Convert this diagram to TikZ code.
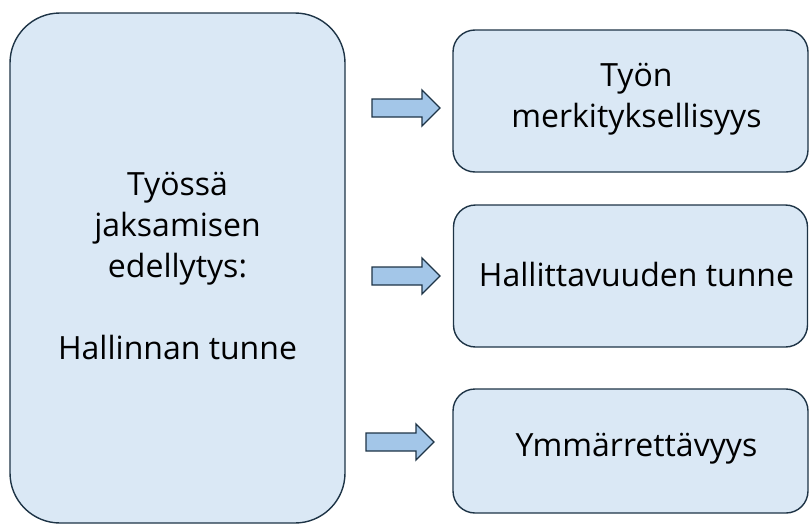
\documentclass[tikz,border=0pt]{standalone}
\usepackage{fontspec}
\setmainfont{Open Sans}
\definecolor{boxfill}{HTML}{DAE8F5}
\definecolor{boxdraw}{HTML}{1E3446}
\definecolor{arrowfill}{HTML}{A3C6E8}
\begin{document}
\begin{tikzpicture}[x=1pt,y=-1pt,
  box/.style={draw=boxdraw, fill=boxfill, line width=1.4pt, inner sep=0pt},
  boxtext/.style={align=center, inner sep=0pt, font=\fontsize{32}{41}\selectfont, text=black},
  barrow/.style={draw=boxdraw, fill=arrowfill, line width=1.4pt, line join=miter}]
\useasboundingbox (0,0) rectangle (809,525);
\node[box, rounded corners=50pt, minimum width=335pt, minimum height=510pt] (main) at (177.5,268) {};
\node[box, rounded corners=22pt, minimum width=355pt, minimum height=142pt] (b1) at (630.5,101) {};
\node[box, rounded corners=22pt, minimum width=354pt, minimum height=142pt] (b2) at (630.5,276) {};
\node[box, rounded corners=22pt, minimum width=355pt, minimum height=124pt] (b3) at (630.5,451) {};
\node[boxtext] (t0) at ([yshift=2pt]main.center) {Työssä\\jaksamisen\\edellytys:\\[41pt]Hallinnan tunne};
\node[boxtext] (t1) at ([xshift=6pt,yshift=2pt]b1.center) {Työn\\merkityksellisyys};
\node[boxtext] (t2) at ([xshift=6pt,yshift=2pt]b2.center) {Hallittavuuden tunne};
\node[boxtext] (t3) at ([xshift=6pt,yshift=2pt]b3.center) {Ymmärrettävyys};
\draw[barrow] (372,99) -- (422,99) -- (422,90) -- (440,108) -- (422,126) -- (422,117) -- (372,117) -- cycle;
\draw[barrow] (372,267) -- (422,267) -- (422,258) -- (440,276) -- (422,294) -- (422,285) -- (372,285) -- cycle;
\draw[barrow] (366,433) -- (416,433) -- (416,424) -- (434,442) -- (416,460) -- (416,451) -- (366,451) -- cycle;
\end{tikzpicture}
\end{document}
